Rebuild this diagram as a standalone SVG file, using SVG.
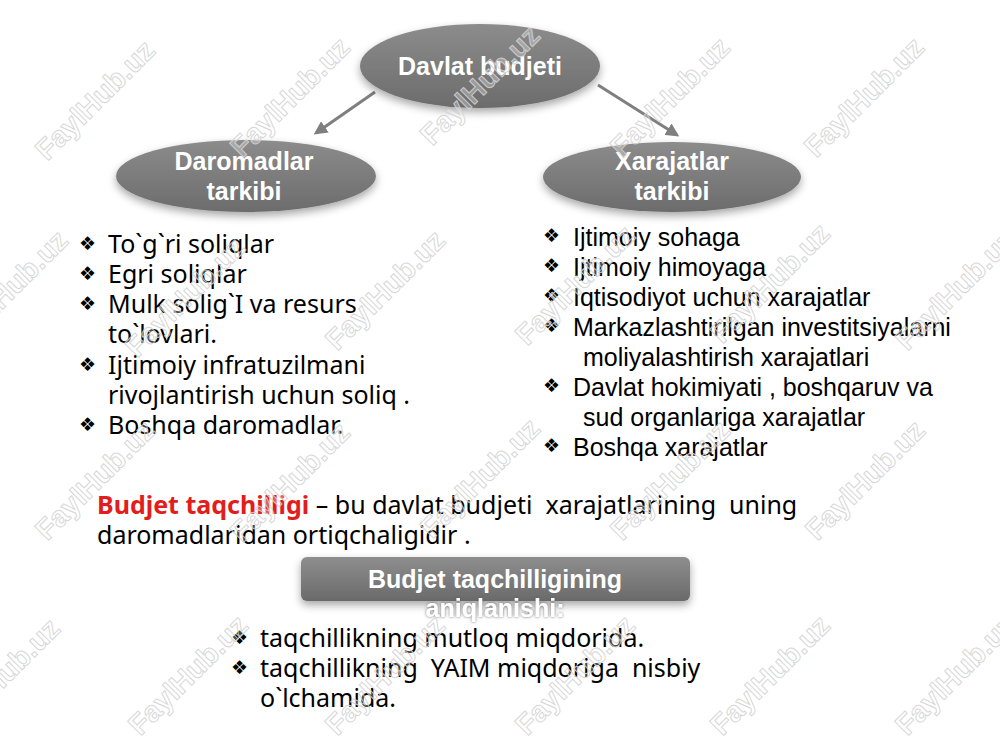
<svg xmlns="http://www.w3.org/2000/svg" width="1000" height="750" viewBox="0 0 1000 750">
<defs>
<linearGradient id="gEl" x1="0" y1="0" x2="0" y2="1">
<stop offset="0" stop-color="#8c8c8c"/>
<stop offset="1" stop-color="#6c6c6c"/>
</linearGradient>
<linearGradient id="gRect" x1="0" y1="0" x2="0" y2="1">
<stop offset="0" stop-color="#8e8e8e"/>
<stop offset="1" stop-color="#6a6a6a"/>
</linearGradient>
<filter id="sh" x="-20%" y="-30%" width="140%" height="170%">
<feDropShadow dx="0" dy="4" stdDeviation="4" flood-color="#000" flood-opacity="0.35"/>
</filter>
<filter id="glow" x="-10%" y="-30%" width="120%" height="160%">
<feDropShadow dx="0" dy="0" stdDeviation="1.5" flood-color="#555" flood-opacity="0.9"/>
</filter>
<marker id="arr" viewBox="0 0 10 10" refX="8" refY="5" markerWidth="4.5" markerHeight="4.5" orient="auto-start-reverse" markerUnits="strokeWidth">
<path d="M0,0 L10,5 L0,10 z" fill="#7f7f7f"/>
</marker>
<style>
.wm{font-family:"Liberation Sans",Arial,sans-serif;font-weight:bold;font-size:29px;fill:#ffffff;fill-opacity:0.3;stroke:#d2d2d2;stroke-width:1;stroke-opacity:0.9;text-anchor:middle}
.nt{font-family:"Liberation Sans",Arial,sans-serif;font-weight:bold;font-size:25px;fill:#ffffff;text-anchor:middle}
.ls{font-family:"Noto Sans","Open Sans",sans-serif;font-size:25px;fill:#000}
.rs{font-family:"Liberation Sans",Arial,sans-serif;font-size:25px;fill:#000}
.bl{font-family:"DejaVu Sans",sans-serif;font-size:19px;fill:#000}
.con{stroke:#7f7f7f;stroke-width:3;fill:none}
</style>
</defs>
<rect width="1000" height="750" fill="#ffffff"/>

<g id="connectors">
<line class="con" x1="375" y1="92" x2="316" y2="133" marker-end="url(#arr)"/>
<line class="con" x1="598" y1="85" x2="677" y2="135" marker-end="url(#arr)"/>
</g>

<g id="davlat-budjeti">
<ellipse cx="480" cy="66" rx="120" ry="42" fill="url(#gEl)" filter="url(#sh)"/>
<text class="nt" x="480" y="75">Davlat budjeti</text>
</g>

<g id="daromadlar-tarkibi">
<ellipse cx="246" cy="176" rx="130" ry="36" fill="url(#gEl)" filter="url(#sh)"/>
<text class="nt" x="244" y="170">Daromadlar</text>
<text class="nt" x="244" y="200">tarkibi</text>
</g>

<g id="xarajatlar-tarkibi">
<ellipse cx="672" cy="177" rx="129" ry="35" fill="url(#gEl)" filter="url(#sh)"/>
<text class="nt" x="672" y="170">Xarajatlar</text>
<text class="nt" x="672" y="200">tarkibi</text>
</g>

<g id="daromadlar-list">
<text class="bl" x="79" y="250">❖</text>
<text class="ls" x="108" y="253">To`g`ri soliqlar</text>
<text class="bl" x="79" y="280">❖</text>
<text class="ls" x="108" y="283">Egri soliqlar</text>
<text class="bl" x="79" y="310">❖</text>
<text class="ls" x="108" y="313">Mulk solig`I va resurs</text>
<text class="ls" x="108" y="343">to`lovlari.</text>
<text class="bl" x="79" y="371">❖</text>
<text class="ls" x="108" y="374">Ijtimoiy infratuzilmani</text>
<text class="ls" x="108" y="404">rivojlantirish uchun soliq .</text>
<text class="bl" x="79" y="431">❖</text>
<text class="ls" x="108" y="434">Boshqa daromadlar.</text>
</g>

<g id="xarajatlar-list">
<text class="bl" x="543" y="242">❖</text>
<text class="rs" x="573" y="246">Ijtimoiy sohaga</text>
<text class="bl" x="543" y="272">❖</text>
<text class="rs" x="573" y="276">Ijtimoiy himoyaga</text>
<text class="bl" x="543" y="302">❖</text>
<text class="rs" x="573" y="306">Iqtisodiyot uchun xarajatlar</text>
<text class="bl" x="543" y="332">❖</text>
<text class="rs" x="573" y="336">Markazlashtirilgan investitsiyalarni</text>
<text class="rs" x="583" y="366">moliyalashtirish xarajatlari</text>
<text class="bl" x="543" y="392">❖</text>
<text class="rs" x="573" y="396">Davlat hokimiyati , boshqaruv va</text>
<text class="rs" x="583" y="426">sud organlariga xarajatlar</text>
<text class="bl" x="543" y="452">❖</text>
<text class="rs" x="573" y="456">Boshqa xarajatlar</text>
</g>

<g id="definition">
<text class="ls" x="97" y="514" xml:space="preserve"><tspan fill="#e31c1c" font-weight="bold">Budjet taqchilligi</tspan> – bu davlat budjeti  xarajatlarining  uning</text>
<text class="ls" x="97" y="544">daromadlaridan ortiqchaligidir .</text>
</g>

<g id="aniqlanishi">
<rect x="301" y="557" width="389" height="44" rx="6" fill="url(#gRect)" filter="url(#sh)"/>
<text class="nt" x="495" y="588">Budjet taqchilligining</text>
<text class="nt" x="495" y="617" filter="url(#glow)">aniqlanishi:</text>
</g>

<g id="aniqlanishi-list">
<text class="bl" x="231" y="644">❖</text>
<text class="ls" x="260" y="647">taqchillikning mutloq miqdorida.</text>
<text class="bl" x="231" y="674">❖</text>
<text class="ls" x="260" y="677" xml:space="preserve">taqchillikning  YAIM miqdoriga  nisbiy</text>
<text class="ls" x="260" y="707">o`lchamida.</text>
</g>

<g id="watermarks">
<text class="wm" transform="translate(102,107) rotate(-45)">FaylHub.uz</text>
<text class="wm" transform="translate(297,104) rotate(-45)">FaylHub.uz</text>
<text class="wm" transform="translate(487,92) rotate(-45)">FaylHub.uz</text>
<text class="wm" transform="translate(677,104) rotate(-45)">FaylHub.uz</text>
<text class="wm" transform="translate(871,104) rotate(-45)">FaylHub.uz</text>
<text class="wm" transform="translate(15,297) rotate(-45)">FaylHub.uz</text>
<text class="wm" transform="translate(192,304) rotate(-45)">FaylHub.uz</text>
<text class="wm" transform="translate(392,297) rotate(-45)">FaylHub.uz</text>
<text class="wm" transform="translate(582,292) rotate(-45)">FaylHub.uz</text>
<text class="wm" transform="translate(777,290) rotate(-45)">FaylHub.uz</text>
<text class="wm" transform="translate(962,297) rotate(-45)">FaylHub.uz</text>
<text class="wm" transform="translate(102,487) rotate(-45)">FaylHub.uz</text>
<text class="wm" transform="translate(297,489) rotate(-45)">FaylHub.uz</text>
<text class="wm" transform="translate(487,485) rotate(-45)">FaylHub.uz</text>
<text class="wm" transform="translate(677,487) rotate(-45)">FaylHub.uz</text>
<text class="wm" transform="translate(872,487) rotate(-45)">FaylHub.uz</text>
<text class="wm" transform="translate(7,685) rotate(-45)">FaylHub.uz</text>
<text class="wm" transform="translate(195,682) rotate(-45)">FaylHub.uz</text>
<text class="wm" transform="translate(392,682) rotate(-45)">FaylHub.uz</text>
<text class="wm" transform="translate(582,682) rotate(-45)">FaylHub.uz</text>
<text class="wm" transform="translate(777,682) rotate(-45)">FaylHub.uz</text>
<text class="wm" transform="translate(962,682) rotate(-45)">FaylHub.uz</text>
</g>
</svg>
